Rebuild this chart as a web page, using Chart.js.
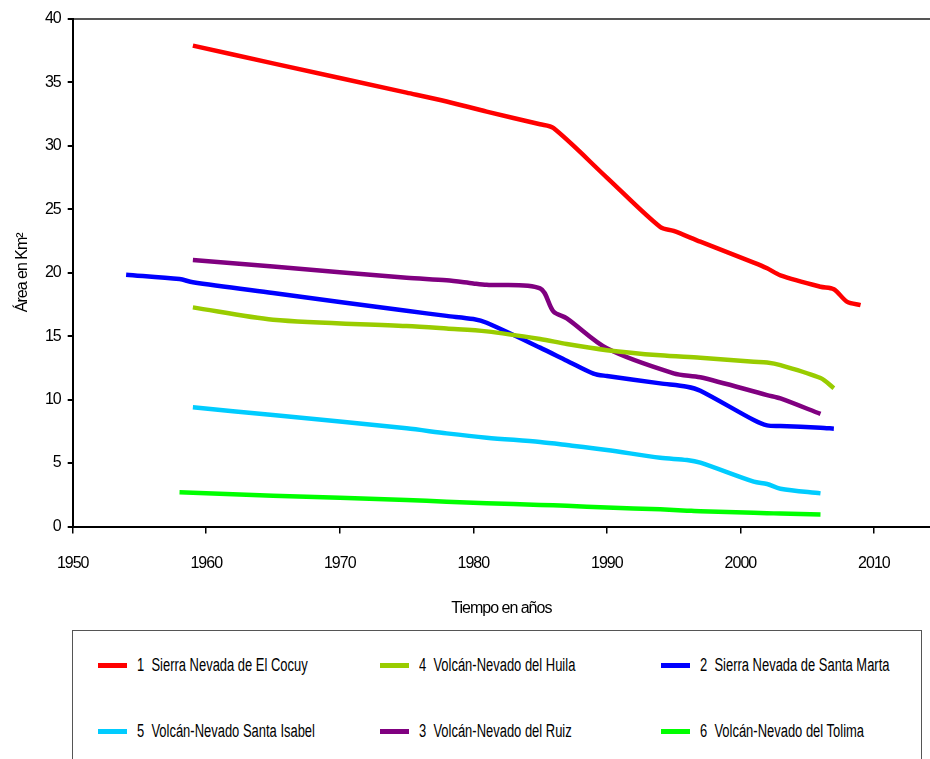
<!DOCTYPE html>
<html lang="es">
<head>
<meta charset="UTF-8">
<title>Área de glaciares</title>
<script src="https://cdn.jsdelivr.net/npm/chart.js"></script>
<style>
    body {
        margin: 0;
        width: 930px;
        height: 759px;
        overflow: hidden;
        background: #ffffff;
        font-family: 'Liberation Sans Narrow', 'Arial Narrow', 'Liberation Sans', sans-serif;
    }
    .chart-box {
        position: absolute;
        left: 0;
        top: 0;
        width: 930px;
        height: 625px;
    }
    .legend-box {
        position: absolute;
        left: 72px;
        top: 630px;
        width: 850px;
        height: 160px;
        border: 1px solid #555;
        box-sizing: border-box;
    }
    .legend-item {
        position: absolute;
        font-size: 18px;
        color: #000;
        white-space: pre;
        line-height: 22px;
    }
    .legend-item span.swatch {
        position: absolute;
        left: 0;
        top: 9px;
        width: 29px;
        height: 5px;
    }
    .legend-item span.label {
        position: absolute;
        left: 39px;
        top: 0;
        transform: scaleX(0.72);
        transform-origin: 0 50%;
    }
</style>
</head>
<body>
<div class="chart-box">
    <canvas id="glaciares" width="930" height="625"></canvas>
</div>
<div class="legend-box" id="legend"></div>

<script>
// years and area (km²)
const cocuyYears = [1959, 1965, 1975, 1978, 1981, 1985, 1986, 1990, 1994, 1995, 1997, 2001, 2002, 2003, 2006, 2007, 2008, 2009];
const cocuyArea  = [37.9, 36.5, 34.2, 33.5, 32.7, 31.7, 31.4, 27.5, 23.6, 23.3, 22.45, 20.8, 20.35, 19.8, 18.9, 18.7, 17.7, 17.45];

const huilaYears = [1959, 1965, 1975, 1978, 1981, 1985, 1987, 1990, 1994, 1997, 2001, 2002, 2003, 2006, 2007];
const huilaArea  = [17.27, 16.3, 15.8, 15.6, 15.38, 14.78, 14.38, 13.9, 13.49, 13.3, 12.99, 12.93, 12.72, 11.7, 10.9];

const martaYears = [1954, 1958, 1959, 1965, 1975, 1978, 1980, 1981, 1985, 1987, 1989, 1990, 1994, 1996, 1997, 2001, 2002, 2003, 2006, 2007];
const martaArea  = [19.85, 19.5, 19.25, 18.4, 17.0, 16.6, 16.35, 16.06, 14.1, 13.07, 12.05, 11.86, 11.28, 11.02, 10.7, 8.39, 7.97, 7.92, 7.79, 7.71];

const isabelYears = [1959, 1965, 1975, 1978, 1981, 1985, 1987, 1990, 1994, 1996, 1997, 2001, 2002, 2003, 2006];
const isabelArea  = [9.39, 8.79, 7.74, 7.34, 7.0, 6.66, 6.42, 6.03, 5.42, 5.24, 5.03, 3.53, 3.35, 2.98, 2.61];

const ruizYears = [1959, 1965, 1975, 1978, 1980, 1981, 1985, 1986, 1987, 1990, 1995, 1997, 2002, 2003, 2006];
const ruizArea  = [21.0, 20.5, 19.6, 19.4, 19.16, 19.05, 18.77, 16.95, 16.4, 14.04, 12.07, 11.76, 10.36, 10.1, 8.87];

const tolimaYears = [1958, 1959, 1965, 1975, 1978, 1981, 1985, 1987, 1990, 1994, 1996, 1997, 2001, 2002, 2003, 2006];
const tolimaArea  = [2.7, 2.66, 2.43, 2.09, 1.95, 1.83, 1.7, 1.63, 1.5, 1.35, 1.25, 1.2, 1.08, 1.05, 1.02, 0.95];

const seriesNames = [
    '1  Sierra Nevada de El Cocuy',
    '4  Volcán-Nevado del Huila',
    '2  Sierra Nevada de Santa Marta',
    '5  Volcán-Nevado Santa Isabel',
    '3  Volcán-Nevado del Ruiz',
    '6  Volcán-Nevado del Tolima'
];
const seriesColors = ['#ff0000', '#99cc00', '#0000ff', '#00ccff', '#800080', '#00ff00'];
const seriesYears = [cocuyYears, huilaYears, martaYears, isabelYears, ruizYears, tolimaYears];
const seriesArea = [cocuyArea, huilaArea, martaArea, isabelArea, ruizArea, tolimaArea];

const fontName = "'Liberation Sans Narrow', 'Arial Narrow', 'Liberation Sans', sans-serif";

function toPoints(xs, ys) {
    return xs.map((x, i) => ({ x: x, y: ys[i] }));
}

const datasets = seriesNames.map((name, i) => ({
    label: name,
    data: toPoints(seriesYears[i], seriesArea[i]),
    borderColor: seriesColors[i],
    backgroundColor: seriesColors[i],
    borderWidth: 4.5,
    pointRadius: 0,
    tension: 0.3,
    fill: false
}));

Chart.defaults.font.family = fontName;
Chart.defaults.font.size = 16;
Chart.defaults.color = '#000';

// no narrow font installed: squeeze the canvas text a bit
const narrowText = {
    id: 'narrowText',
    beforeDraw: function (chart) { chart.ctx.letterSpacing = '-1px'; }
};

var ctx = document.getElementById('glaciares').getContext('2d');
var chart = new Chart(ctx, {
    type: 'line',
    data: { datasets: datasets },
    plugins: [narrowText],
    options: {
        responsive: false,
        animation: false,
        layout: { padding: { top: 19, right: 0, bottom: 0, left: 0 } },
        plugins: {
            legend: { display: false },
            tooltip: { enabled: false }
        },
        scales: {
            x: {
                type: 'linear',
                min: 1950,
                max: 2014.2,
                border: { color: '#000', width: 2 },
                grid: { display: true, drawOnChartArea: false, tickLength: 7, tickColor: '#000', lineWidth: 1.5 },
                ticks: { stepSize: 10, includeBounds: false, padding: 20, callback: v => String(v) },
                title: { display: true, text: 'Tiempo en años', padding: { top: 0, bottom: 7 } },
                afterFit: function (scale) { scale.height = 98.5; }
            },
            y: {
                min: 0,
                max: 40,
                border: { color: '#000', width: 2 },
                grid: {
                    color: c => (c.tick && c.tick.value === 40) ? '#555' : 'rgba(0,0,0,0)',
                    lineWidth: 2,
                    tickLength: 5,
                    tickColor: '#000'
                },
                ticks: { stepSize: 5, padding: 7 },
                title: { display: true, text: 'Área en Km²', padding: { top: 13, bottom: 0 } },
                afterFit: function (scale) { scale.width = 72.7; }
            }
        }
    }
});

// legend laid out as in the original: three columns, two rows
const legendPos = [
    [25, 23], [307, 23], [588, 23],
    [25, 89], [307, 89], [588, 89]
];
const legend = document.getElementById('legend');
seriesNames.forEach((name, i) => {
    const item = document.createElement('div');
    item.className = 'legend-item';
    item.style.left = legendPos[i][0] + 'px';
    item.style.top = legendPos[i][1] + 'px';
    item.innerHTML = '<span class="swatch" style="background:' + seriesColors[i] + '"></span><span class="label"></span>';
    item.querySelector('.label').textContent = name;
    legend.appendChild(item);
});
</script>
</body>
</html>
